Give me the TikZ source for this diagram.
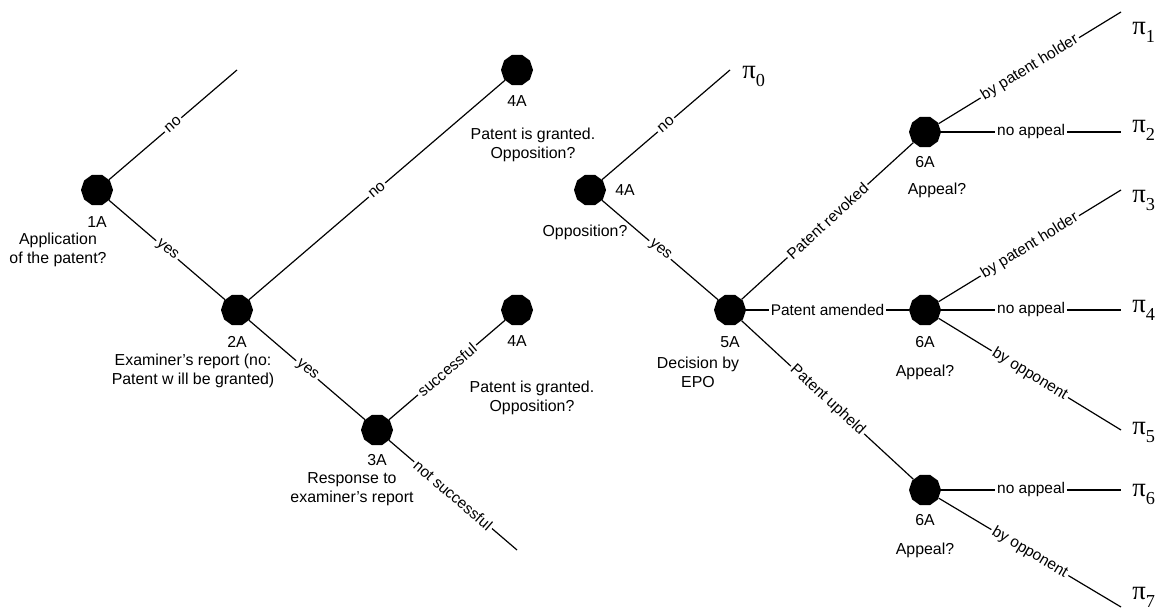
\documentclass[tikz,border=0pt]{standalone}
\usepackage{fontspec}
\setmainfont{Liberation Sans}
\newfontfamily\pifont{Liberation Serif}
\usetikzlibrary{positioning, shapes.geometric}
\tikzstyle{chance} = [regular polygon, regular polygon sides=10, fill=black, 
    minimum size=0.8cm, inner sep=0pt]
\tikzstyle{tag} = [font=\fontsize{11.3}{13}\selectfont, inner sep=0pt]
\tikzstyle{note} = [align=center, font=\fontsize{11.3}{13.5}\selectfont, inner sep=0pt]
\tikzstyle{branch} = [fill=white, inner sep=1.5pt, sloped, midway, 
    font=\fontsize{11}{13}\selectfont]
\tikzstyle{payoff} = [inner sep=0pt, anchor=west]
\tikzstyle{limb} = [line width=0.85pt]
\newcommand{\pilabel}[1]{{\pifont\fontsize{19}{19}\selectfont π\raisebox{-0.3em}{\fontsize{13}{13}\selectfont #1}}}

\begin{document}
\begin{tikzpicture}[node distance=3cm and 3.5cm, on grid]
    \useasboundingbox (0,0) rectangle (29.2,-15.225);
    % application nodes
    \node (n1A) [chance] at (2.425,-4.75) {};
    \node (n2A) [chance, below right=of n1A] {};
    \node (n3A) [chance, below right=of n2A] {};
    \node (n4Aa) [chance, above right=6cm and 7cm of n2A] {};
    \node (n4Ab) [chance, above right=of n3A] {};
    \coordinate [above right=of n1A] (e1A);
    \coordinate [below right=of n3A] (e3A);

    % application labels
    \node (t1A) [tag, below=0.8cm of n1A] {1A};
    \node (q1A) [note, below left=1.5cm and 0.975cm of n1A] {Application\\of the patent?};
    \node (t2A) [tag, below=0.8cm of n2A] {2A};
    \node (q2A) [note, below left=1.525cm and 1.1cm of n2A] {Examiner’s report (no:\\Patent w ill be granted)};
    \node (t3A) [tag, below=0.75cm of n3A] {3A};
    \node (q3A) [note, below left=1.475cm and 0.625cm of n3A] {Response to\\examiner’s report};
    \node (t4Aa) [tag, below=0.775cm of n4Aa] {4A};
    \node (q4Aa) [note, below right=1.875cm and 0.4cm of n4Aa] {Patent is granted.\\Opposition?};
    \node (t4Ab) [tag, below=0.775cm of n4Ab] {4A};
    \node (q4Ab) [note, below right=2.2cm and 0.375cm of n4Ab] {Patent is granted.\\Opposition?};

    % opposition nodes
    \node (n4Ac) [chance] at (14.75,-4.75) {};
    \coordinate [above right=of n4Ac] (e4A);
    \node (n5A) [chance, below right=of n4Ac] {};
    \node (n6Aa) [chance, above right=4.45cm and 4.875cm of n5A] {};
    \node (n6Ab) [chance, right=4.875cm of n5A] {};
    \node (n6Ac) [chance, below right=4.5cm and 4.875cm of n5A] {};
    \coordinate [above right=3cm and 4.9cm of n6Aa] (e1);
    \coordinate [right=4.9cm of n6Aa] (e2);
    \coordinate [above right=3cm and 4.9cm of n6Ab] (e3);
    \coordinate [right=4.9cm of n6Ab] (e4);
    \coordinate [below right=3cm and 4.9cm of n6Ab] (e5);
    \coordinate [right=4.9cm of n6Ac] (e6);
    \coordinate [below right=2.925cm and 4.9cm of n6Ac] (e7);

    % opposition labels
    \node (t4Ac) [tag, right=0.875cm of n4Ac] {4A};
    \node (q4Ac) [note, below left=1.05cm and 0.125cm of n4Ac] {Opposition?};
    \node (t5A) [tag, below=0.8cm of n5A] {5A};
    \node (q5A) [note, below left=1.55cm and 0.8cm of n5A] {Decision by\\EPO};
    \node (t6Aa) [tag, below=0.75cm of n6Aa] {6A};
    \node (q6Aa) [note, below right=1.45cm and 0.3cm of n6Aa] {Appeal?};
    \node (t6Ab) [tag, below=0.8cm of n6Ab] {6A};
    \node (q6Ab) [note, below=1.55cm of n6Ab] {Appeal?};
    \node (t6Ac) [tag, below=0.75cm of n6Ac] {6A};
    \node (q6Ac) [note, below=1.5cm of n6Ac] {Appeal?};

    % payoffs
    \node (p0) [right=0.3cm of e4A, payoff, yshift=-0.15cm] {\pilabel{0}};
    \node (p1) [right=0.275cm of e1, payoff, yshift=-0.5cm] {\pilabel{1}};
    \node (p2) [right=0.275cm of e2, payoff, yshift=0.05cm] {\pilabel{2}};
    \node (p3) [right=0.275cm of e3, payoff, yshift=-0.25cm] {\pilabel{3}};
    \node (p4) [right=0.275cm of e4, payoff] {\pilabel{4}};
    \node (p5) [right=0.275cm of e5, payoff, yshift=-0.05cm] {\pilabel{5}};
    \node (p6) [right=0.275cm of e6, payoff, yshift=-0.1cm] {\pilabel{6}};
    \node (p7) [right=0.275cm of e7, payoff, yshift=0.25cm] {\pilabel{7}};

    % branches
    \draw [limb] (n1A) -- node [branch] {no} (e1A);
    \draw [limb] (n1A) -- node [branch] {yes} (n2A);
    \draw [limb] (n2A) -- node [branch] {no} (n4Aa);
    \draw [limb] (n2A) -- node [branch] {yes} (n3A);
    \draw [limb] (n3A) -- node [branch] {successful} (n4Ab);
    \draw [limb] (n3A) -- node [branch] {not successful} (e3A);

    \draw [limb] (n4Ac) -- node [branch] {no} (e4A);
    \draw [limb] (n4Ac) -- node [branch] {yes} (n5A);
    \draw [limb] (n5A) -- node [branch] {Patent revoked} (n6Aa);
    \draw [limb] (n5A) -- node [branch] {Patent amended} (n6Ab);
    \draw [limb] (n5A) -- node [branch] {Patent upheld} (n6Ac);
    \draw [limb] (n6Aa) -- node [branch] {by patent holder} (e1);
    \draw [limb] (n6Aa) -- node [branch] {no appeal} (e2);
    \draw [limb] (n6Ab) -- node [branch] {by patent holder} (e3);
    \draw [limb] (n6Ab) -- node [branch] {no appeal} (e4);
    \draw [limb] (n6Ab) -- node [branch] {by opponent} (e5);
    \draw [limb] (n6Ac) -- node [branch] {no appeal} (e6);
    \draw [limb] (n6Ac) -- node [branch] {by opponent} (e7);
\end{tikzpicture}
\end{document}
